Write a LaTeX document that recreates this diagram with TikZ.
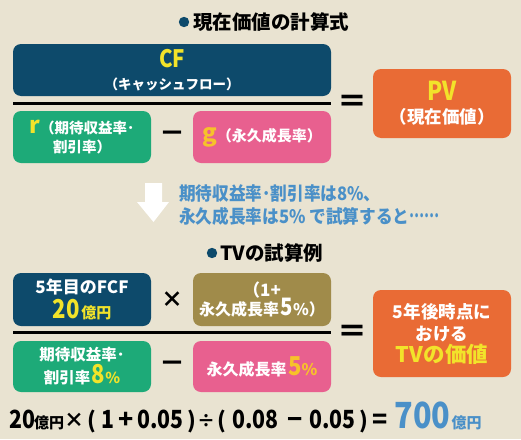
\documentclass[tikz,border=0pt]{standalone}
\usepackage{fontspec}
\setmainfont{Noto Sans CJK JP}
\usepackage{graphicx}
\definecolor{bg}{HTML}{E9E3D1}
\definecolor{navy}{HTML}{0D4A6B}
\definecolor{grn}{HTML}{1DAA78}
\definecolor{pnk}{HTML}{E8608F}
\definecolor{org}{HTML}{E96B35}
\definecolor{olv}{HTML}{A08B4A}
\definecolor{ylw}{HTML}{F2E32A}
\definecolor{gold}{HTML}{F7C22A}
\definecolor{bluetxt}{HTML}{4A90C8}
\newcommand{\fs}[1]{\fontsize{#1}{#1}\selectfont}
\newcommand{\cond}[1]{\scalebox{0.85}[1]{#1}}
\newcommand{\lsk}[1]{\fontsize{10}{#1}\selectfont\lineskiplimit=-20pt}
\begin{document}
\begin{tikzpicture}[x=1pt,y=-1pt,
  box/.style={rounded corners=8pt, inner sep=0pt, text=white, align=center},
  op/.style={inner sep=0pt, font=\bfseries},
  eqt/.style={inner sep=0pt, anchor=base, font=\bfseries\fs{25}}]
\fill[bg] (0,0) rectangle (521,439);
\useasboundingbox (0,0) rectangle (521,439);

% title 1
\fill[navy] (184,22) circle (5.2);
\node[op, anchor=west, font=\bfseries\fs{19.5}] (t1) at (193,22) {現在価値の計算式};

% formula 1
\node[box, fill=navy, minimum width=318, minimum height=52, font=\bfseries\lsk{22}] (cf) at (172,70)
  {{\fs{24}\color{ylw}\cond{CF}}\\{\fs{13.5}（キャッシュフロー）}};
\draw[line width=3pt] (13,103) -- (331,103);
\node[box, fill=grn, minimum width=138, minimum height=52, font=\bfseries\lsk{19}] (r) at (82,137)
  {{\fs{23}\color{ylw}r}{\fs{14.5}（期待収益率･}\\{\fs{14.5}割引率）}};
\node[op, font=\bfseries\fs{26}] (m1) at (172,137) {－};
\node[box, fill=pnk, minimum width=138, minimum height=52, font=\bfseries] (g) at (262,137)
  {{\fs{24}\color{gold}g}{\fs{15}（永久成長率）}};
\node[op, font=\bfseries\fs{30}] (eq1) at (352,104) {＝};
\node[box, fill=org, minimum width=138, minimum height=69, font=\bfseries\lsk{23}] (pv) at (442,103.5)
  {{\fs{26}\color{ylw}\cond{PV}}\\{\fs{17.5}（現在価値）}};

% arrow + note
\fill[white] (145,183) -- (162,183) -- (162,202) -- (169,202) -- (153.5,222) -- (137,202) -- (145,202) -- cycle;
\node[op, anchor=west, align=left, text=bluetxt, font=\bfseries\lsk{23}] (note) at (179,205)
  {\scalebox{0.9}[1]{\fs{18.5}期待収益率･割引率は8\%、}\\\scalebox{0.9}[1]{\fs{18.5}永久成長率は5\% で試算すると\raisebox{0.3em}{\scalebox{0.8}[1]{……}}}};

% title 2
\fill[navy] (212,253) circle (5.2);
\node[op, anchor=west, font=\bfseries\fs{19.5}] (t2) at (220,253) {TVの試算例};

% formula 2
\node[box, fill=navy, minimum width=138, minimum height=53, font=\bfseries\lsk{25}] (fcf) at (82,299.5)
  {{\fs{17}5年目のFCF}\\{\color{ylw}{\fs{26}\cond{20}}\,{\fs{15}億円}}};
\node[op, font=\bfseries\fs{22}] (x) at (172,300) {×};
\node[box, fill=olv, minimum width=138, minimum height=53, font=\bfseries\lsk{19}] (gr) at (262,299.5)
  {{\fs{17}（1+}\\{\fs{16}永久成長率}\,{\fs{24}\cond{5}}{\fs{16}\%）}};
\draw[line width=3pt] (13,332) -- (331,332);
\node[box, fill=grn, minimum width=138, minimum height=51, font=\bfseries\lsk{23}] (rr) at (82,366.5)
  {{\fs{15.5}期待収益率･}\\{\fs{15.5}割引率}\,{\color{ylw}{\fs{26}\cond{8}}{\fs{15}\%}}};
\node[op, font=\bfseries\fs{26}] (m2) at (172,367) {－};
\node[box, fill=pnk, minimum width=138, minimum height=51, font=\bfseries] (gg) at (262,366.5)
  {{\fs{16}永久成長率}\,{\color{gold}{\fs{26}\cond{5}}{\fs{16}\%}}};
\node[op, font=\bfseries\fs{30}] (eq2) at (352,334) {＝};
\node[box, fill=org, minimum width=138, minimum height=87, font=\bfseries\lsk{22}] (tv) at (442,333.5)
  {{\fs{17.5}5年後時点に}\\{\fs{17.5}おける}\\{\fs{21.5}\color{ylw}TVの価値}};

% bottom equation
\node[eqt] (e1) at (22.5,428) {\cond{20}};
\node[eqt, font=\bfseries\fs{15}] (e2) at (49,428) {億円};
\node[eqt, font=\bfseries\fs{20}] (e3) at (74,427) {×};
\node[eqt, font=\bfseries\fs{22}] (e4) at (92,428) {(};
\node[eqt] (e5) at (107.5,428) {\cond{1}};
\node[eqt] (e6) at (126,428) {+};
\node[eqt] (e7) at (160.5,428) {\cond{0.05}};
\node[eqt, font=\bfseries\fs{22}] (e8) at (192,428) {)};
\node[eqt, font=\bfseries\fs{18}] (e9) at (206.5,427) {÷};
\node[eqt, font=\bfseries\fs{22}] (e10) at (222,428) {(};
\node[eqt] (e11) at (255.5,428) {\cond{0.08}};
\node[eqt] (e12) at (295,428) {−};
\node[eqt] (e13) at (332.5,428) {\cond{0.05}};
\node[eqt, font=\bfseries\fs{22}] (e14) at (364,428) {)};
\node[eqt] (e15) at (380,428) {=};
\node[eqt, text=bluetxt, font=\bfseries\fs{36}] (e16) at (422.5,428) {\cond{700}};
\node[eqt, text=bluetxt, font=\bfseries\fs{15}] (e17) at (466.5,428) {億円};
\end{tikzpicture}
\end{document}
